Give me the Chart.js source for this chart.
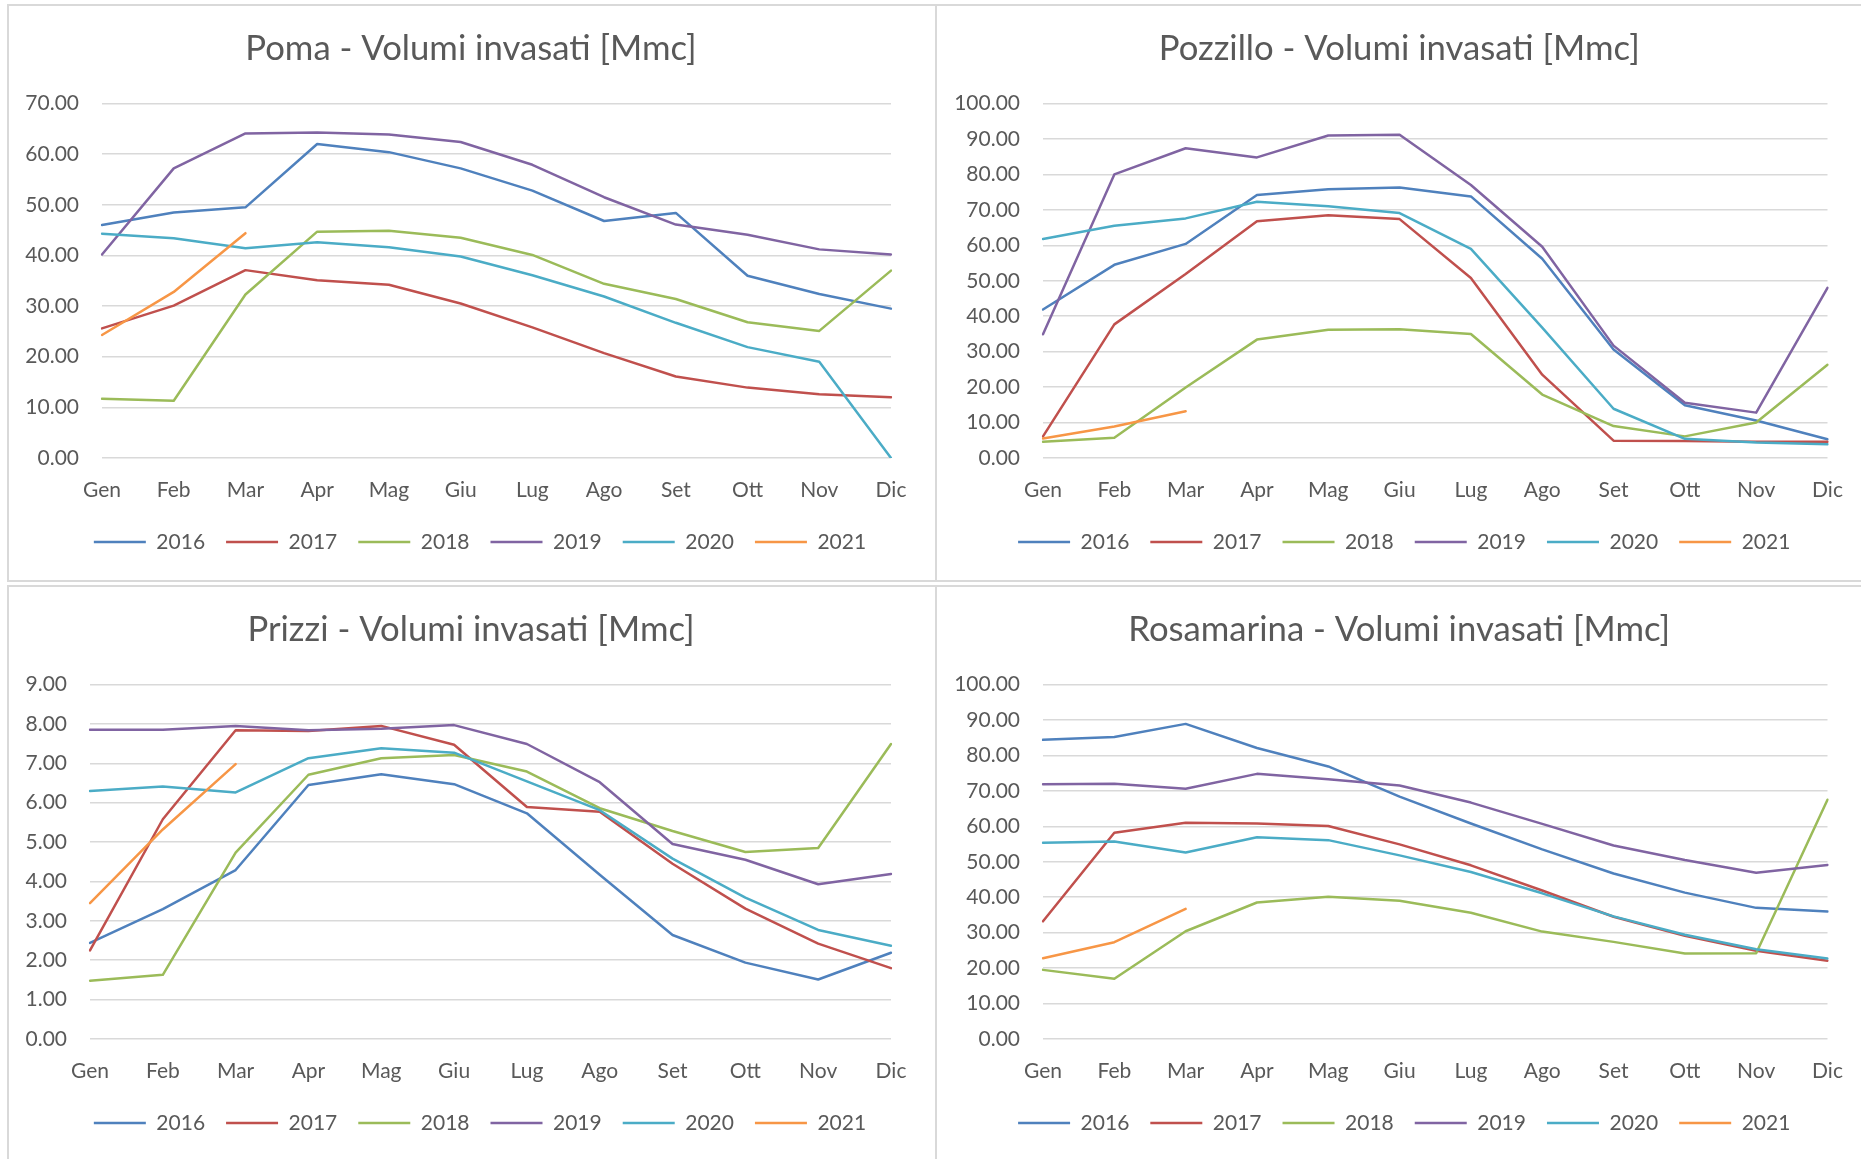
<!DOCTYPE html>
<html lang="it">
<head>
    <meta charset="UTF-8">
    <title>Volumi invasati</title>
    <style>
        body {
            margin: 0;
            width: 1861px;
            height: 1159px;
            overflow: hidden;
            background: #ffffff;
            position: relative;
            font-family: Lato, sans-serif;
        }

        .pannello {
            position: absolute;
            width: 930px;
            height: 578px;
            border: 2px solid #d9d9d9;
            box-sizing: border-box;
            background: #ffffff;
        }

        .pannello canvas {
            display: block;
        }
    </style>
</head>
<body>

<div class="pannello" style="left:7px; top:4px;"><canvas id="poma" width="926" height="574"></canvas></div>
<div class="pannello" style="left:935px; top:4px;"><canvas id="pozzillo" width="926" height="574"></canvas></div>
<div class="pannello" style="left:7px; top:585px;"><canvas id="prizzi" width="926" height="574"></canvas></div>
<div class="pannello" style="left:935px; top:585px;"><canvas id="rosamarina" width="926" height="574"></canvas></div>

<script src="https://cdn.jsdelivr.net/npm/chart.js"></script>
<script>
    // Mesi e anni
    const mesi = ['Gen', 'Feb', 'Mar', 'Apr', 'Mag', 'Giu', 'Lug', 'Ago', 'Set', 'Ott', 'Nov', 'Dic'];
    const anni = ['2016', '2017', '2018', '2019', '2020', '2021'];
    const colori = ['#4f81bd', '#c0504d', '#9bbb59', '#8064a2', '#4bacc6', '#f79646'];

    // Poma
    const poma2016 = [46.0, 48.5, 49.5, 62.0, 60.4, 57.2, 52.8, 46.8, 48.4, 36.0, 32.4, 29.5];
    const poma2017 = [25.6, 30.1, 37.1, 35.1, 34.2, 30.5, 25.8, 20.7, 16.1, 13.9, 12.6, 12.0];
    const poma2018 = [11.7, 11.3, 32.3, 44.7, 44.9, 43.5, 40.1, 34.4, 31.4, 26.8, 25.1, 37.0];
    const poma2019 = [40.2, 57.2, 64.1, 64.3, 63.9, 62.4, 57.9, 51.5, 46.1, 44.1, 41.2, 40.2];
    const poma2020 = [44.3, 43.4, 41.4, 42.6, 41.6, 39.8, 36.1, 31.9, 26.7, 21.9, 19.0, 0.0];
    const poma2021 = [24.3, 32.8, 44.4];

    // Pozzillo
    const pozzillo2016 = [41.9, 54.5, 60.4, 74.2, 75.8, 76.3, 73.8, 56.2, 30.6, 14.9, 10.6, 5.3];
    const pozzillo2017 = [6.1, 37.7, 51.9, 66.8, 68.5, 67.4, 50.8, 23.5, 4.9, 4.8, 4.6, 4.6];
    const pozzillo2018 = [4.6, 5.7, 19.9, 33.4, 36.2, 36.3, 35.0, 17.9, 9.0, 6.1, 10.0, 26.3];
    const pozzillo2019 = [34.9, 80.0, 87.4, 84.8, 91.0, 91.2, 77.0, 59.6, 31.7, 15.6, 12.8, 48.0];
    const pozzillo2020 = [61.8, 65.5, 67.6, 72.3, 71.0, 69.1, 59.0, 36.8, 13.9, 5.4, 4.4, 3.9];
    const pozzillo2021 = [5.5, 8.9, 13.2];

    // Prizzi
    const prizzi2016 = [2.44, 3.30, 4.29, 6.45, 6.72, 6.47, 5.73, 4.17, 2.64, 1.94, 1.51, 2.19];
    const prizzi2017 = [2.25, 5.58, 7.84, 7.82, 7.95, 7.47, 5.89, 5.77, 4.45, 3.31, 2.42, 1.80];
    const prizzi2018 = [1.48, 1.63, 4.73, 6.71, 7.13, 7.21, 6.79, 5.86, 5.28, 4.75, 4.85, 7.49];
    const prizzi2019 = [7.85, 7.85, 7.95, 7.84, 7.88, 7.97, 7.49, 6.52, 4.95, 4.55, 3.93, 4.19];
    const prizzi2020 = [6.30, 6.41, 6.26, 7.13, 7.38, 7.27, 6.54, 5.81, 4.58, 3.59, 2.77, 2.37];
    const prizzi2021 = [3.45, 5.32, 6.98];

    // Rosamarina
    const rosamarina2016 = [84.4, 85.2, 88.9, 82.1, 76.9, 68.4, 60.8, 53.5, 46.7, 41.3, 37.0, 36.0];
    const rosamarina2017 = [33.2, 58.2, 61.0, 60.8, 60.1, 54.9, 49.0, 41.9, 34.5, 29.1, 24.9, 22.1];
    const rosamarina2018 = [19.5, 17.0, 30.4, 38.5, 40.1, 39.0, 35.6, 30.3, 27.4, 24.1, 24.2, 67.5];
    const rosamarina2019 = [71.9, 72.0, 70.6, 74.8, 73.3, 71.5, 66.7, 60.7, 54.6, 50.5, 46.9, 49.1];
    const rosamarina2020 = [55.4, 55.7, 52.6, 56.9, 56.1, 51.8, 47.1, 41.1, 34.6, 29.4, 25.3, 22.7];
    const rosamarina2021 = [22.8, 27.3, 36.7];

    Chart.defaults.font.family = 'Lato, "Open Sans", sans-serif';
    Chart.defaults.color = '#595959';

    // Excel centra titolo e legenda sul pannello, non sull'area utile: li sposto a mano
    const sposta = {
        id: 'sposta',
        afterLayout(chart, args, opts) {
            chart.legend.left += opts.legenda;
            chart.legend.right += opts.legenda;
            chart.titleBlock.left += opts.titolo;
            chart.titleBlock.right += opts.titolo;
        }
    };

    function creaGrafico(id, titolo, serie, yMax, yStep, larghezzaAsse, margineDestro, dxTitolo, dxLegenda) {
        const ctx = document.getElementById(id).getContext('2d');

        const datasets = serie.map((valori, i) => ({
            label: anni[i],
            data: valori,
            borderColor: colori[i],
            backgroundColor: colori[i],
            borderWidth: 2.5,
            pointRadius: 0,
            pointHoverRadius: 0,
            tension: 0,
            fill: false,
            borderJoinStyle: 'round',
            borderCapStyle: 'round',
            order: serie.length - i // gli anni più recenti sopra, come in Excel
        }));

        return new Chart(ctx, {
            type: 'line',
            data: { labels: mesi, datasets: datasets },
            plugins: [sposta],
            options: {
                responsive: false,
                devicePixelRatio: 1,
                animation: false,
                layout: {
                    padding: { top: 0, left: 0, right: margineDestro, bottom: 17.5 }
                },
                plugins: {
                    sposta: { titolo: dxTitolo, legenda: dxLegenda },
                    title: {
                        display: true,
                        text: titolo,
                        color: '#595959',
                        font: { size: 34.7, weight: 'normal' },
                        padding: { top: 22.2, bottom: 33.7 }
                    },
                    legend: {
                        position: 'bottom',
                        labels: {
                            usePointStyle: true,
                            pointStyle: 'line',
                            pointStyleWidth: 52,
                            padding: 21,
                            color: '#595959',
                            font: { size: 21 },
                            sort: (a, b) => a.datasetIndex - b.datasetIndex
                        }
                    },
                    tooltip: { enabled: false }
                },
                scales: {
                    x: {
                        grid: { display: false },
                        border: { display: false },
                        ticks: {
                            padding: 11.5,
                            font: { size: 21 },
                            color: '#595959',
                            maxRotation: 0,
                            autoSkip: false
                        },
                        afterFit: (s) => { s.height = 52.5; }
                    },
                    y: {
                        min: 0,
                        max: yMax,
                        grid: {
                            color: '#d9d9d9',
                            lineWidth: 1.5,
                            drawTicks: false
                        },
                        border: { display: false },
                        ticks: {
                            stepSize: yStep,
                            padding: 23,
                            font: { size: 21 },
                            color: '#595959',
                            callback: (v) => v.toFixed(2)
                        },
                        afterFit: (s) => { s.width = larghezzaAsse; }
                    }
                }
            }
        });
    }

    creaGrafico('poma', 'Poma - Volumi invasati [Mmc]',
        [poma2016, poma2017, poma2018, poma2019, poma2020, poma2021], 70, 10, 93, 44, 21, 30);
    creaGrafico('pozzillo', 'Pozzillo - Volumi invasati [Mmc]',
        [pozzillo2016, pozzillo2017, pozzillo2018, pozzillo2019, pozzillo2020, pozzillo2021], 100, 10, 106, 35.5, 17, 22);
    creaGrafico('prizzi', 'Prizzi - Volumi invasati [Mmc]',
        [prizzi2016, prizzi2017, prizzi2018, prizzi2019, prizzi2020, prizzi2021], 9, 1, 81, 44, 21, 30);
    creaGrafico('rosamarina', 'Rosamarina - Volumi invasati [Mmc]',
        [rosamarina2016, rosamarina2017, rosamarina2018, rosamarina2019, rosamarina2020, rosamarina2021], 100, 10, 106, 35.5, 17, 22);
</script>

</body>
</html>
